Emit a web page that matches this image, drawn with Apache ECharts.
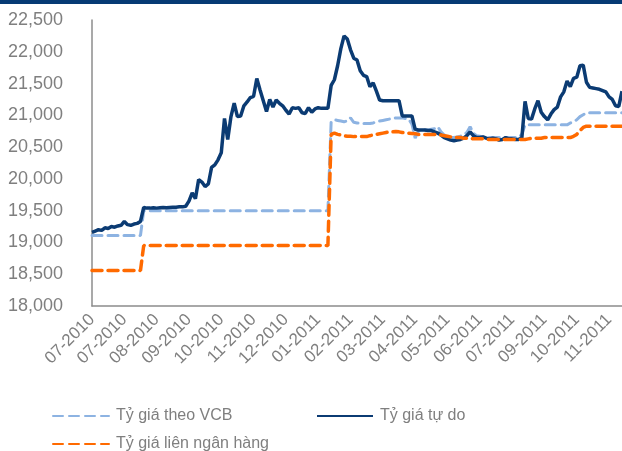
<!DOCTYPE html>
<html>
<head>
<meta charset="utf-8">
<script src="https://cdn.jsdelivr.net/npm/echarts@6/dist/echarts.min.js"></script>
<style>
  html, body { margin: 0; padding: 0; background: #fff; }
  #myChart { width: 622px; height: 451px; }
</style>
</head>
<body>
<div id="myChart"></div>
<script>
// nhan truc x (moi nhan cach 10 diem)
var tickLabels = ['07-2010', '07-2010', '08-2010', '09-2010', '10-2010', '11-2010', '12-2010', '01-2011',
  '02-2011', '03-2011', '04-2011', '05-2011', '06-2011', '07-2011', '09-2011', '10-2011', '11-2011'];
var pointsPerTick = 10;
var pointCount = 165;

var yTicks = [18000, 22500, 500];

// Ty gia theo VCB
var vcbData = [
  19110, 19110, 19110, 19110, 19110, 19110, 19110, 19110, 19110, 19110,
  19110, 19110, 19110, 19110, 19110, 19110, 19500, 19500, 19500, 19500,
  19500, 19500, 19500, 19500, 19500, 19500, 19500, 19500, 19500, 19500,
  19500, 19500, 19500, 19500, 19500, 19500, 19500, 19500, 19500, 19500,
  19500, 19500, 19500, 19500, 19500, 19500, 19500, 19500, 19500, 19500,
  19500, 19500, 19500, 19500, 19500, 19500, 19500, 19500, 19500, 19500,
  19500, 19500, 19500, 19500, 19500, 19500, 19500, 19500, 19500, 19500,
  19500, 19500, 19500, 19500, 20900, 20930, 20920, 20910, 20900, 20910,
  20960, 20890, 20880, 20880, 20870, 20870, 20870, 20880, 20900, 20910,
  20920, 20930, 20940, 20950, 20960, 20960, 20960, 20950, 20940, 20860,
  20640, 20750, 20770, 20770, 20770, 20780, 20790, 20820, 20740, 20690,
  20650, 20650, 20650, 20660, 20670, 20690, 20730, 20820, 20720, 20680,
  20670, 20660, 20660, 20650, 20650, 20650, 20650, 20650, 20650, 20650,
  20650, 20650, 20650, 20700, 20850, 20850, 20850, 20850, 20850, 20850,
  20850, 20850, 20850, 20850, 20850, 20850, 20850, 20850, 20880, 20900,
  20930, 20980, 21010, 21040, 21040, 21040, 21040, 21040, 21040, 21040,
  21040, 21040, 21040, 21040, 21040
];

// Ty gia tu do
var freeData = [
  19160, 19180, 19200, 19190, 19230, 19220, 19250, 19240, 19260, 19270,
  19330, 19280, 19270, 19290, 19300, 19330, 19550, 19540, 19540, 19545,
  19540, 19545, 19550, 19545, 19550, 19555, 19555, 19560, 19560, 19570,
  19650, 19780, 19690, 19990, 19950, 19880, 19920, 20180, 20220, 20300,
  20410, 20950, 20620, 20980, 21190, 20980, 20990, 21150, 21210, 21280,
  21300, 21580, 21400, 21230, 21060, 21250, 21130, 21240, 21190, 21150,
  21080, 21020, 21120, 21110, 21120, 21040, 21030, 21120, 21050, 21100,
  21120, 21110, 21110, 21110, 21470, 21560, 21780, 22050, 22250, 22200,
  22030, 21900, 21870, 21700, 21630, 21610, 21450, 21510, 21380, 21240,
  21230, 21230, 21230, 21230, 21230, 21230, 20990, 20990, 20990, 20990,
  20780, 20770, 20770, 20770, 20760, 20760, 20740, 20720, 20690, 20650,
  20630, 20610, 20600, 20610, 20620, 20640, 20680, 20740, 20680, 20650,
  20650, 20660, 20640, 20630, 20640, 20630, 20610, 20620, 20650, 20630,
  20630, 20620, 20620, 20640, 21220, 20950, 20940, 21100, 21230, 21050,
  20980, 20930, 21020, 21090, 21130, 21290, 21370, 21540, 21450, 21580,
  21600, 21780, 21790, 21520, 21440, 21430, 21420, 21410, 21390, 21370,
  21290, 21250, 21150, 21140, 21380
];

// Ty gia lien ngan hang
var interbankData = [
  18560, 18560, 18560, 18560, 18560, 18560, 18560, 18560, 18560, 18560,
  18560, 18560, 18560, 18560, 18560, 18560, 18950, 18950, 18950, 18950,
  18950, 18950, 18950, 18950, 18950, 18950, 18950, 18950, 18950, 18950,
  18950, 18950, 18950, 18950, 18950, 18950, 18950, 18950, 18950, 18950,
  18950, 18950, 18950, 18950, 18950, 18950, 18950, 18950, 18950, 18950,
  18950, 18950, 18950, 18950, 18950, 18950, 18950, 18950, 18950, 18950,
  18950, 18950, 18950, 18950, 18950, 18950, 18950, 18950, 18950, 18950,
  18950, 18950, 18950, 18950, 20700, 20720, 20700, 20690, 20680, 20670,
  20670, 20665, 20665, 20665, 20665, 20665, 20680, 20690, 20700, 20710,
  20720, 20730, 20740, 20740, 20745, 20740, 20730, 20725, 20720, 20715,
  20710, 20700, 20700, 20700, 20700, 20700, 20700, 20700, 20690, 20680,
  20670, 20660, 20650, 20650, 20650, 20640, 20640, 20640, 20630, 20630,
  20630, 20630, 20620, 20620, 20620, 20620, 20620, 20620, 20620, 20620,
  20620, 20620, 20620, 20620, 20620, 20630, 20640, 20640, 20640, 20640,
  20650, 20650, 20650, 20650, 20650, 20650, 20650, 20650, 20650, 20670,
  20700, 20760, 20810, 20830, 20830, 20830, 20830, 20830, 20830, 20830,
  20830, 20830, 20830, 20830, 20830
];

var categories = [];
for (var i = 0; i < pointCount; i++) {
  categories.push(tickLabels[Math.floor(i / pointsPerTick)]);
}

var grey = '#7f7f7f';
var font = '"Liberation Sans", Arial, sans-serif';

function legendBox(name, left, top) {
  return {
    data: [name],
    left: left, top: top,
    itemWidth: 56, itemHeight: 14, itemGap: 0,
    itemStyle: { opacity: 0 },
    textStyle: { color: grey, fontSize: 16, fontFamily: font, padding: [0, 0, 0, 2] }
  };
}

var chart = echarts.init(document.getElementById('myChart'));
chart.setOption({
  animation: false,
  textStyle: { fontFamily: font },
  graphic: [{
    type: 'rect',
    shape: { x: 0, y: 0, width: 622, height: 4 },
    style: { fill: '#063a74' }
  }],
  grid: { left: 92, right: 0, top: 20, bottom: 145 },
  legend: [
    legendBox('Tỷ giá theo VCB', 47, 403),
    legendBox('Tỷ giá tự do', 311, 403),
    legendBox('Tỷ giá liên ngân hàng', 47, 431)
  ],
  xAxis: {
    type: 'category',
    data: categories,
    boundaryGap: false,
    axisLine: { lineStyle: { color: '#8c8c8c', width: 1.5 } },
    axisTick: { show: false },
    axisLabel: {
      interval: pointsPerTick - 1,
      rotate: 45,
      margin: 11,
      color: grey,
      fontSize: 17,
      fontFamily: font
    },
    splitLine: { show: false }
  },
  yAxis: {
    type: 'value',
    min: yTicks[0],
    max: yTicks[1],
    interval: yTicks[2],
    axisLine: { show: true, lineStyle: { color: '#8c8c8c', width: 1.5 } },
    axisTick: { show: false },
    splitLine: { show: false },
    axisLabel: {
      margin: 29,
      color: grey,
      fontSize: 18,
      fontFamily: font,
      formatter: function (v) { return v.toLocaleString('en-US'); }
    }
  },
  series: [{
    name: 'Tỷ giá theo VCB',
    type: 'line',
    data: vcbData,
    symbol: 'none',
    z: 2,
    itemStyle: { color: '#8db3e2' },
    lineStyle: { color: '#8db3e2', width: 3, type: [10, 6], cap: 'round' }
  }, {
    name: 'Tỷ giá tự do',
    type: 'line',
    data: freeData,
    symbol: 'none',
    z: 3,
    itemStyle: { color: '#0b3b73' },
    lineStyle: { color: '#0b3b73', width: 3.5 }
  }, {
    name: 'Tỷ giá liên ngân hàng',
    type: 'line',
    data: interbankData,
    symbol: 'none',
    z: 4,
    itemStyle: { color: '#ff6a00' },
    lineStyle: { color: '#ff6a00', width: 3.5, type: [10, 6], cap: 'round' }
  }]
});
</script>
</body>
</html>
